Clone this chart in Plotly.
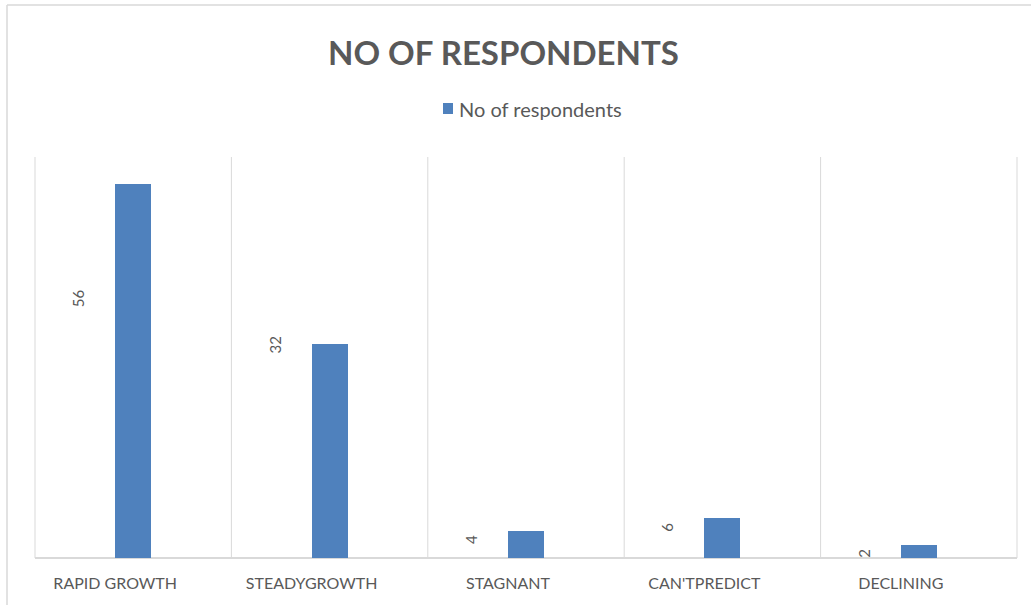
import plotly.graph_objects as go

# Survey responses: expected direction of the market
categories = ["RAPID GROWTH", "STEADYGROWTH", "STAGNANT", "CAN'TPREDICT", "DECLINING"]
respondents = [56, 32, 4, 6, 2]
series_name = "No of respondents"

# vertical placement (in axis units) of the rotated value labels
label_y = [38.9, 31.9, 2.7, 4.6, 0.75]

BLUE = "#4F81BD"
GREY = "#595959"
GRID = "#D9D9D9"
FONT = "Lato, 'Open Sans', sans-serif"

# plot area in pixels
L, R, T, B = 35, 1017, 157, 558


def px_x(p):
    return (p - L) / (R - L)


def px_y(p):
    return (B - p) / (B - T)


fig = go.Figure()
fig.add_trace(go.Bar(
    x=categories,
    y=respondents,
    name=series_name,
    marker=dict(color=BLUE, line=dict(width=0)),
    width=0.183,
    showlegend=False,
))

annotations = []
for cat, val, ly in zip(categories, respondents, label_y):
    annotations.append(dict(
        x=cat, y=ly, xref="x", yref="y",
        text=str(val), showarrow=False, textangle=-90,
        xshift=-55, xanchor="center", yanchor="middle",
        font=dict(family=FONT, size=15, color=GREY),
    ))

# chart title
annotations.append(dict(
    x=px_x(503), y=px_y(52), xref="paper", yref="paper",
    xanchor="center", yanchor="middle",
    text="<b>NO OF RESPONDENTS</b>",
    showarrow=False, font=dict(family=FONT, size=33, color=GREY),
))
# legend entry text
annotations.append(dict(
    x=px_x(457), y=px_y(109), xref="paper", yref="paper",
    xanchor="left", yanchor="middle", text=series_name,
    showarrow=False, font=dict(family=FONT, size=20, color=GREY),
))

shapes = [
    # chart frame (top and left edges; the rest runs off the page)
    dict(type="line", xref="paper", yref="paper",
         x0=px_x(7), x1=px_x(1040), y0=px_y(5), y1=px_y(5),
         line=dict(color=GRID, width=1.5), layer="below"),
    dict(type="line", xref="paper", yref="paper",
         x0=px_x(7), x1=px_x(7), y0=px_y(5), y1=px_y(620),
         line=dict(color=GRID, width=1.5), layer="below"),
    # category axis baseline
    dict(type="line", xref="paper", yref="paper", x0=0, x1=1, y0=0, y1=0,
         line=dict(color=GRID, width=2), layer="below"),
    # outer plot-area edges
    dict(type="line", xref="paper", yref="paper", x0=0, x1=0, y0=0, y1=1,
         line=dict(color=GRID, width=1), layer="below"),
    dict(type="line", xref="paper", yref="paper", x0=1, x1=1, y0=0, y1=1,
         line=dict(color=GRID, width=1), layer="below"),
    # legend swatch
    dict(type="rect", xref="paper", yref="paper",
         x0=px_x(443), x1=px_x(453), y0=px_y(114), y1=px_y(103),
         line=dict(width=0), fillcolor=BLUE),
]
# separators between neighbouring category slots
for i in range(1, len(categories)):
    shapes.append(dict(
        type="line", xref="x", yref="paper", x0=i - 0.5, x1=i - 0.5,
        y0=0, y1=1, line=dict(color=GRID, width=1), layer="below",
    ))

fig.update_layout(
    width=1031, height=605,
    margin=dict(l=L, r=1031 - R, t=T, b=605 - B),
    paper_bgcolor="white", plot_bgcolor="white",
    bargap=0,
    annotations=annotations,
    shapes=shapes,
    showlegend=False,
)

fig.update_xaxes(
    type="category", showgrid=False,
    showline=False, zeroline=False,
    ticks="", ticklabelshift=-18, ticklabelstandoff=14,
    tickfont=dict(family=FONT, size=16, color=GREY),
    range=[-0.5, 4.5], fixedrange=True,
)
fig.update_yaxes(
    range=[0, 60], showgrid=False, showticklabels=False,
    zeroline=False, showline=False, fixedrange=True,
)

fig.write_html("out.html")
